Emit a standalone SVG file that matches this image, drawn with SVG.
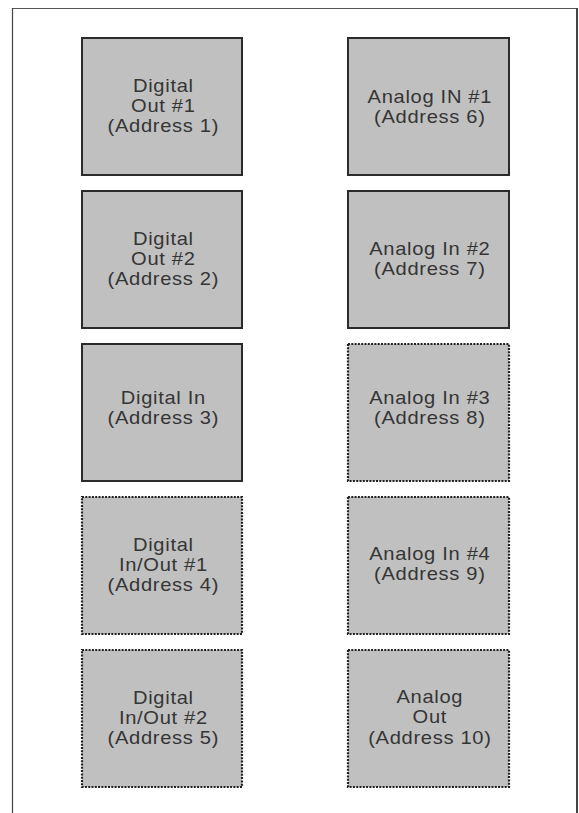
<svg xmlns="http://www.w3.org/2000/svg" width="579" height="813" viewBox="0 0 579 813">
<style>
.box{fill:#c0c0c0;stroke:#2b2b2b;stroke-width:2}
.dot{fill:#c0c0c0;stroke:#222;stroke-width:2.2;stroke-dasharray:2 1.3}
text{font-family:"Liberation Sans",Arial,sans-serif;font-size:17.5px;fill:#353535;text-anchor:middle;letter-spacing:0.6px}
.l{transform:translate(163px,0) scale(1.15,1)}
.r{transform:translate(429.5px,0) scale(1.15,1)}
</style>
<rect x="0" y="0" width="579" height="813" fill="#ffffff"/>
<g id="frame" fill="none">
<line x1="12" y1="8.5" x2="577" y2="8.5" stroke="#555" stroke-width="1"/>
<line x1="12.5" y1="8" x2="12.5" y2="813" stroke="#444" stroke-width="1.2"/>
<line x1="577" y1="8" x2="577" y2="813" stroke="#444" stroke-width="2"/>
</g>
<g id="connectors"></g>
<g id="n1"><rect class="box" x="82" y="38" width="160" height="137"/>
<g class="l"><text x="0.3" y="92.5">Digital</text><text x="0.3" y="112.5">Out #1</text><text x="0.3" y="132.5">(Address 1)</text></g></g>
<g id="n2"><rect class="box" x="82" y="191" width="160" height="137"/>
<g class="l"><text x="0.3" y="245.5">Digital</text><text x="0.3" y="265.5">Out #2</text><text x="0.3" y="285.5">(Address 2)</text></g></g>
<g id="n3"><rect class="box" x="82" y="344" width="160" height="137"/>
<g class="l"><text x="0.3" y="404">Digital In</text><text x="0.3" y="424">(Address 3)</text></g></g>
<g id="n4"><rect class="dot" x="82" y="497" width="160" height="137"/>
<g class="l"><text x="0.3" y="551.5">Digital</text><text x="0.3" y="571.5">In/Out #1</text><text x="0.3" y="591.5">(Address 4)</text></g></g>
<g id="n5"><rect class="dot" x="82" y="650" width="160" height="137"/>
<g class="l"><text x="0.3" y="704.5">Digital</text><text x="0.3" y="724.5">In/Out #2</text><text x="0.3" y="744.5">(Address 5)</text></g></g>
<g id="n6"><rect class="box" x="348" y="38" width="161" height="137"/>
<g class="r"><text x="0.3" y="103">Analog IN #1</text><text x="0.3" y="123">(Address 6)</text></g></g>
<g id="n7"><rect class="box" x="348" y="191" width="161" height="137"/>
<g class="r"><text x="0.3" y="255">Analog In #2</text><text x="0.3" y="275">(Address 7)</text></g></g>
<g id="n8"><rect class="dot" x="348" y="344" width="161" height="137"/>
<g class="r"><text x="0.3" y="404">Analog In #3</text><text x="0.3" y="424">(Address 8)</text></g></g>
<g id="n9"><rect class="dot" x="348" y="497" width="161" height="137"/>
<g class="r"><text x="0.3" y="560">Analog In #4</text><text x="0.3" y="580">(Address 9)</text></g></g>
<g id="n10"><rect class="dot" x="348" y="650" width="161" height="137"/>
<g class="r"><text x="0.3" y="703.5">Analog</text><text x="0.3" y="723.5">Out</text><text x="0.3" y="744">(Address 10)</text></g></g>
</svg>
